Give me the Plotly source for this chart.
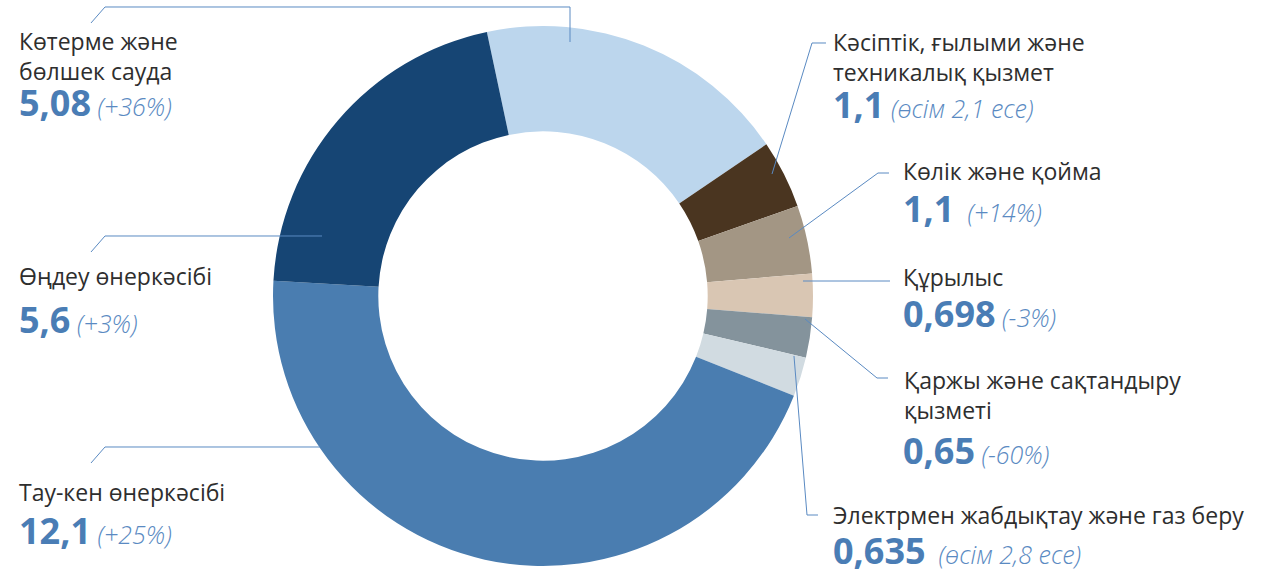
import plotly.graph_objects as go

W, H = 1264, 576

# ---- data ----
categories = [
    "Көтерме және бөлшек сауда",
    "Кәсіптік, ғылыми және техникалық қызмет",
    "Көлік және қойма",
    "Құрылыс",
    "Қаржы және сақтандыру қызметі",
    "Электрмен жабдықтау және газ беру",
    "Тау-кен өнеркәсібі",
    "Өңдеу өнеркәсібі",
]
values = [5.08, 1.1, 1.1, 0.698, 0.65, 0.635, 12.1, 5.6]
value_labels = ["5,08", "1,1", "1,1", "0,698", "0,65", "0,635", "12,1", "5,6"]
change_labels = ["(+36%)", "(өсім 2,1 есе)", "(+14%)", "(-3%)", "(-60%)",
                 "(өсім 2,8 есе)", "(+25%)", "(+3%)"]
name_lines = [
    ["Көтерме және", "бөлшек сауда"],
    ["Кәсіптік, ғылыми және", "техникалық қызмет"],
    ["Көлік және қойма"],
    ["Құрылыс"],
    ["Қаржы және сақтандыру", "қызметі"],
    ["Электрмен жабдықтау және газ беру"],
    ["Тау-кен өнеркәсібі"],
    ["Өңдеу өнеркәсібі"],
]

# ---- styles / layout positions (pixels) ----
colors = ["#bcd6ed", "#4a3520", "#a39684", "#d9c6b3", "#84939c",
          "#d1dbe1", "#4a7db0", "#164574"]
FONT = "Open Sans"
NAME_SIZE = 23
VALUE_SIZE = 36
CHANGE_SIZE = 25
NAME_COLOR = "#2e2e2e"
VALUE_COLOR = "#4a7db5"
CHANGE_COLOR = "#5a8ac2"
LINE_COLOR = "#5a8ac2"

# (name_x, name_center_y, value_x, value_center_y)
label_pos = [
    (18, 56, 18, 102),
    (832, 57, 832, 104),
    (902, 171, 902, 208),
    (902, 277, 902, 313),
    (903, 395, 902, 450),
    (832, 515, 832, 550),
    (18, 492, 18, 530),
    (18, 276, 18, 319),
]
gap_spaces = [1, 1, 2, 1, 1, 2, 1, 1]
leader_paths = [
    [(570, 42), (570, 7), (105, 7), (91, 23)],
    [(772, 174), (812, 43), (826, 43)],
    [(789, 238), (878, 173), (889, 173)],
    [(803, 281), (890, 281)],
    [(805, 319), (877, 378), (888, 378)],
    [(794, 356), (807, 515), (818, 515)],
    [(320, 447), (105, 447), (91, 463)],
    [(322, 236), (105, 236), (91, 252)],
]

CX, CY, R = 543, 296, 270


def px(x):
    return x / W


def py(y):
    return 1 - y / H


fig = go.Figure()
fig.add_trace(go.Pie(
    labels=categories,
    values=values,
    hole=0.61,
    sort=False,
    direction="clockwise",
    rotation=-12,
    marker=dict(colors=colors, line=dict(width=0)),
    textinfo="none",
    hoverinfo="label+value",
    showlegend=False,
    domain=dict(x=[px(CX - R), px(CX + R)], y=[py(CY + R), py(CY - R)]),
))

annotations = []
for i in range(len(categories)):
    nx, ny, vx, vy = label_pos[i]
    annotations.append(dict(
        x=px(nx), y=py(ny), xref="paper", yref="paper",
        xanchor="left", yanchor="middle", align="left", showarrow=False,
        borderpad=0,
        text="<br>".join(name_lines[i]),
        font=dict(family=FONT, size=NAME_SIZE, color=NAME_COLOR),
    ))
    gap = "\u00a0" * gap_spaces[i]
    annotations.append(dict(
        x=px(vx), y=py(vy), xref="paper", yref="paper",
        xanchor="left", yanchor="middle", align="left", showarrow=False,
        borderpad=0,
        text=("<b>" + value_labels[i] + "</b>"
              + f"<span style='font-size:{CHANGE_SIZE}px;color:{CHANGE_COLOR};font-weight:300'>"
              + gap + "<i>" + change_labels[i] + "</i></span>"),
        font=dict(family=FONT, size=VALUE_SIZE, color=VALUE_COLOR),
    ))

shapes = []
for path in leader_paths:
    d = "M " + " L ".join(f"{px(x):.5f} {py(y):.5f}" for x, y in path)
    shapes.append(dict(type="path", path=d, xref="paper", yref="paper",
                       line=dict(color=LINE_COLOR, width=1)))

fig.update_layout(
    width=W, height=H,
    margin=dict(l=0, r=0, t=0, b=0),
    paper_bgcolor="white", plot_bgcolor="white",
    annotations=annotations,
    shapes=shapes,
)

fig.write_html(
    "out.html",
    config={"displayModeBar": False},
    post_script="document.body.style.margin='0';document.body.style.padding='0';",
)
